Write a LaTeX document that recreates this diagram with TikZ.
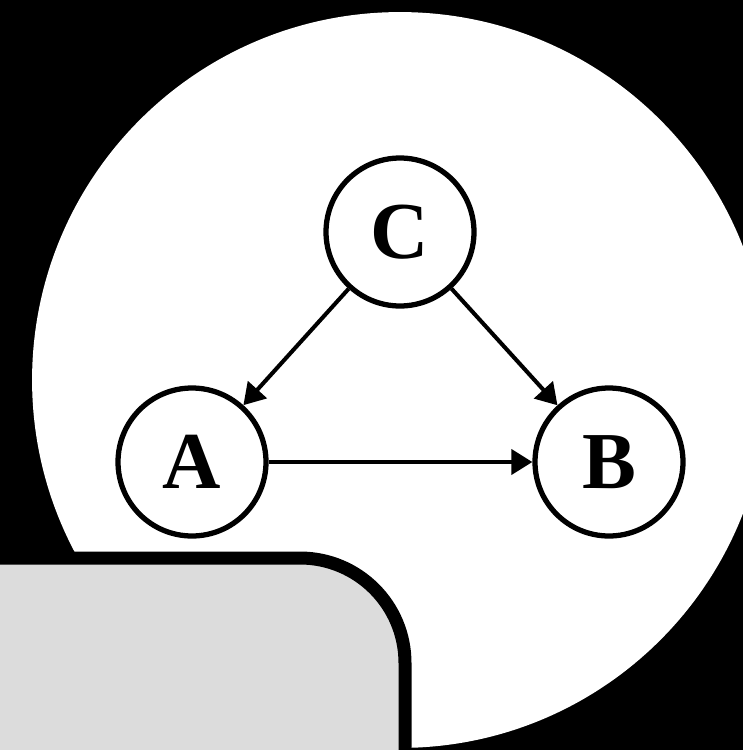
\documentclass[tikz,border=0pt]{standalone}
\usepackage{fontspec}
\setmainfont{Liberation Serif}
\usepackage{tikz}
\usetikzlibrary{arrows.meta}
\definecolor{panelgray}{RGB}{220,220,220}
\tikzset{
  vertex/.style={circle, draw, fill=white, line width=3pt, minimum size=2.96cm,
    inner sep=0pt, font=\fontsize{46}{46}\selectfont\bfseries},
  edge/.style={-{Triangle[length=0.42cm,width=0.5cm]}, line width=2.3pt},
}

\begin{document}
\begin{tikzpicture}[x=0.02cm,y=-0.02cm]
  \useasboundingbox (0,0) rectangle (743,750);
  \clip (0,0) rectangle (743,750);
  \fill[black] (0,0) rectangle (743,750);
  \fill[white] (400,380) circle[radius=7.36cm];
  % card in the lower left corner
  \draw[fill=panelgray, line width=7.4pt, rounded corners=2.1cm]
    (-200,558) rectangle (405,1000);
  \node[vertex] (C) at (400,232) {C};
  \node[vertex] (A) at (192,462) {A};
  \node[vertex] (B) at (609,462) {B};
  \draw[edge] (C) -- (A);
  \draw[edge] (C) -- (B);
  \draw[edge] (A) -- (B);
\end{tikzpicture}
\end{document}
